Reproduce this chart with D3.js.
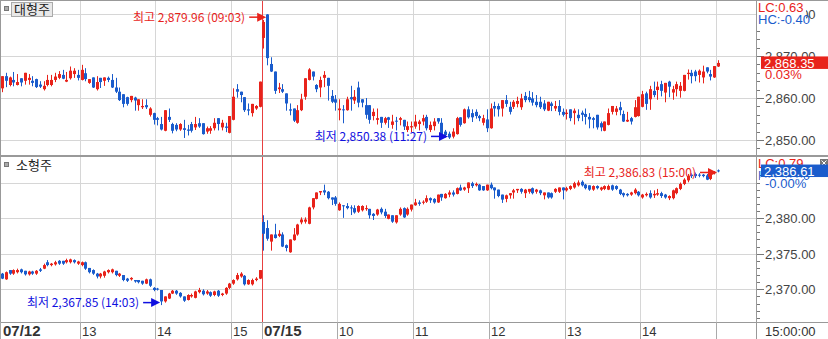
<!DOCTYPE html>
<html>
<head>
<meta charset="utf-8">
<script src="https://cdn.jsdelivr.net/npm/d3@7"></script>
<style>
    body { margin: 0; background: #fff; }
    svg { display: block; }
</style>
</head>
<body>
<script>
// ---------------------- DATA ----------------------
// 3-minute bars: 07/12 (idx 0-68) then 07/15 09:00-15:00 (idx 69-189), [open, high, low, close]
const largeCap = [
    [2862.3,2865.2,2861.5,2865.2],[2865.2,2866.0,2862.7,2864.1],[2863.1,2865.1,2862.9,2864.9],[2864.3,2866.2,2862.9,2863.7],
    [2863.1,2865.7,2863.1,2863.8],[2864.7,2864.7,2862.9,2863.7],[2864.1,2866.0,2863.3,2866.0],[2864.3,2865.7,2863.3,2864.8],
    [2864.1,2865.2,2862.9,2863.6],[2864.5,2864.6,2862.5,2862.6],[2863.2,2864.0,2862.5,2862.7],[2862.1,2864.0,2861.9,2862.9],
    [2863.1,2865.5,2862.9,2864.3],[2863.1,2865.5,2862.9,2864.3],[2864.3,2866.0,2863.9,2865.1],[2864.8,2866.4,2864.6,2865.7],
    [2865.5,2866.7,2864.6,2864.6],[2863.9,2866.2,2863.9,2864.3],[2864.7,2867.5,2864.5,2866.5],[2865.7,2867.1,2864.9,2866.5],
    [2865.5,2866.7,2864.3,2864.8],[2864.3,2867.9,2864.3,2866.7],[2865.9,2867.1,2864.1,2864.5],[2863.6,2864.5,2863.5,2864.5],
    [2864.9,2864.9,2862.5,2862.5],[2862.1,2865.2,2861.9,2863.8],[2864.8,2864.8,2862.5,2863.8],[2864.1,2864.9,2863.0,2864.9],
    [2864.8,2865.1,2863.9,2864.3],[2864.3,2865.7,2862.5,2862.5],[2862.5,2864.8,2861.3,2861.5],[2861.5,2862.5,2859.4,2859.5],
    [2860.9,2860.9,2857.9,2858.6],[2860.2,2860.3,2858.3,2858.6],[2859.5,2860.5,2859.1,2860.5],[2860.1,2860.3,2857.1,2859.4],
    [2858.3,2859.7,2857.1,2859.7],[2857.8,2859.7,2857.5,2858.1],[2858.3,2859.7,2857.5,2857.8],[2856.0,2857.8,2855.7,2857.5],
    [2856.4,2856.5,2853.8,2854.8],[2855.2,2855.5,2853.6,2854.8],[2853.8,2855.5,2852.4,2852.5],[2852.2,2857.1,2852.2,2857.1],
    [2855.5,2857.5,2854.4,2854.8],[2853.8,2854.1,2851.7,2852.2],[2853.6,2854.0,2852.2,2852.5],[2852.5,2854.0,2852.3,2853.8],
    [2852.8,2854.8,2850.6,2852.4],[2852.5,2853.6,2851.2,2852.2],[2853.8,2854.3,2851.9,2852.2],[2853.0,2855.5,2852.5,2853.8],
    [2854.0,2855.2,2853.0,2853.2],[2854.0,2854.0,2851.4,2851.4],[2852.0,2853.2,2851.6,2852.8],[2852.2,2853.3,2851.6,2852.8],
    [2852.8,2855.2,2852.4,2854.1],[2855.2,2855.2,2852.4,2853.8],[2853.0,2854.8,2852.4,2854.1],[2853.2,2854.1,2852.0,2852.9],
    [2851.7,2855.7,2851.7,2855.7],[2854.8,2862.3,2854.8,2860.3],[2862.1,2863.3,2860.2,2861.5],[2861.5,2861.5,2859.1,2860.7],
    [2860.2,2860.2,2856.8,2857.1],[2857.3,2858.7,2856.0,2857.0],[2856.4,2858.6,2855.7,2858.6],[2857.5,2858.3,2857.3,2858.1],
    [2857.9,2863.9,2857.9,2863.9],
    [2874.3,2878.6,2871.9,2878.1],[2879.9,2879.96,2867.9,2869.5],[2868.1,2869.7,2866.3,2866.3],[2866.3,2866.3,2861.1,2861.7],
    [2862.1,2863.6,2861.3,2862.5],[2862.1,2863.3,2861.3,2861.5],[2861.1,2861.1,2857.1,2858.7],[2857.3,2858.7,2856.0,2857.0],
    [2857.5,2857.5,2854.4,2854.6],[2854.1,2858.3,2854.0,2857.1],[2857.1,2861.0,2857.0,2859.7],[2860.3,2864.7,2859.7,2864.7],
    [2864.3,2867.1,2864.3,2866.8],[2866.3,2866.3,2864.3,2865.1],[2863.1,2863.3,2861.5,2862.1],[2862.5,2865.1,2860.3,2864.3],
    [2864.8,2866.4,2862.7,2865.5],[2864.8,2864.8,2859.5,2862.9],[2860.5,2861.9,2858.9,2859.1],[2859.7,2860.7,2857.1,2858.9],
    [2857.1,2859.7,2854.8,2857.5],[2857.3,2858.3,2854.1,2857.1],[2857.1,2860.3,2857.1,2859.7],[2860.2,2862.9,2857.1,2859.7],
    [2859.4,2861.9,2858.7,2860.3],[2862.5,2863.9,2857.9,2858.9],[2859.7,2859.7,2857.9,2858.9],[2858.3,2860.0,2855.2,2856.0],
    [2858.3,2858.3,2854.0,2854.8],[2855.7,2857.5,2854.8,2856.7],[2854.8,2857.5,2853.8,2855.2],[2855.5,2855.5,2853.0,2854.1],
    [2854.1,2855.5,2853.8,2855.2],[2855.4,2855.5,2853.0,2854.8],[2853.6,2856.0,2852.8,2854.4],[2854.6,2855.5,2852.4,2854.4],
    [2854.8,2855.5,2853.6,2855.2],[2854.8,2854.8,2852.5,2853.2],[2852.4,2854.4,2852.0,2853.3],[2853.0,2854.4,2852.0,2853.3],
    [2853.2,2856.0,2852.8,2854.4],[2853.8,2854.8,2852.4,2854.4],[2854.4,2856.0,2853.6,2855.2],[2855.5,2856.0,2852.4,2852.8],
    [2852.4,2854.4,2852.0,2853.6],[2853.3,2855.2,2852.4,2854.4],[2855.2,2855.2,2854.0,2854.4],[2854.1,2855.2,2850.95,2851.2],
    [2852.0,2852.4,2850.7,2851.2],[2851.5,2852.0,2850.38,2850.6],[2850.8,2852.8,2850.5,2852.0],[2851.4,2855.5,2851.4,2855.2],
    [2855.4,2855.4,2853.3,2853.6],[2854.0,2857.5,2854.0,2857.3],[2857.3,2858.0,2855.2,2855.4],[2856.4,2857.3,2854.4,2855.4],
    [2856.7,2857.3,2855.2,2855.7],[2855.7,2856.0,2854.6,2855.2],[2854.1,2856.0,2853.6,2855.2],[2854.9,2857.3,2852.0,2852.8],
    [2852.8,2858.7,2852.8,2857.5],[2858.1,2859.1,2855.7,2857.5],[2858.1,2858.7,2855.7,2857.3],[2857.5,2859.5,2855.7,2859.5],
    [2859.5,2860.7,2858.0,2858.6],[2857.9,2859.1,2856.2,2856.7],[2857.9,2859.5,2857.5,2859.1],[2858.6,2860.3,2857.9,2859.3],
    [2857.8,2861.0,2857.3,2859.9],[2860.5,2861.4,2859.1,2859.5],[2860.2,2861.7,2859.1,2859.5],[2859.9,2861.4,2858.3,2858.9],
    [2859.1,2860.7,2857.9,2858.3],[2859.1,2860.3,2857.5,2857.8],[2858.7,2859.5,2857.0,2857.3],[2857.0,2859.1,2857.0,2859.1],
    [2858.7,2859.1,2857.0,2858.1],[2857.5,2859.3,2857.0,2858.1],[2858.1,2859.5,2856.0,2856.7],[2856.7,2857.5,2855.7,2856.0],
    [2856.2,2857.3,2855.0,2856.5],[2857.3,2857.3,2854.6,2855.2],[2856.4,2857.5,2853.8,2857.0],[2856.0,2857.3,2854.6,2855.2],
    [2856.5,2857.0,2854.6,2856.0],[2856.2,2857.5,2853.8,2855.5],[2855.5,2856.4,2852.9,2854.9],[2855.2,2855.5,2852.9,2854.8],
    [2856.0,2856.0,2852.6,2853.0],[2854.0,2854.4,2852.2,2853.0],[2852.2,2854.4,2852.2,2854.4],[2853.6,2857.5,2853.6,2856.4],
    [2856.7,2858.1,2856.2,2858.1],[2856.7,2858.1,2856.0,2857.5],[2857.8,2859.1,2856.0,2857.1],[2856.2,2857.0,2854.4,2854.4],
    [2854.4,2856.7,2854.4,2854.8],[2855.2,2855.5,2853.8,2854.4],[2855.5,2859.5,2855.5,2857.8],[2855.7,2860.3,2855.7,2860.3],
    [2857.9,2861.7,2857.9,2860.9],[2861.1,2861.5,2857.3,2858.6],[2859.7,2862.9,2857.3,2862.1],[2861.7,2863.9,2860.3,2860.7],
    [2861.9,2863.9,2859.7,2862.7],[2863.3,2864.1,2860.5,2861.7],[2861.3,2863.6,2859.1,2863.6],[2863.9,2864.1,2860.3,2862.7],
    [2861.3,2862.9,2859.7,2862.1],[2862.1,2863.9,2860.5,2863.3],[2861.7,2863.8,2860.2,2862.9],[2861.7,2865.5,2861.7,2865.5],
    [2865.7,2866.8,2864.5,2866.0],[2866.0,2866.7,2863.6,2865.2],[2866.3,2866.7,2864.1,2865.2],[2865.5,2866.8,2863.8,2866.5],
    [2864.9,2867.7,2863.6,2866.3],[2867.3,2867.3,2866.0,2866.3],[2865.7,2866.7,2864.3,2865.1],[2864.9,2867.6,2864.9,2867.6],
    [2867.5,2869.0,2867.5,2868.35]
];

const smallCap = [
    [2372.2,2372.3,2371.5,2371.5],[2371.4,2372.5,2371.4,2372.4],[2372.7,2372.7,2372.1,2372.2],[2372.2,2372.8,2372.1,2372.7],
    [2372.4,2372.9,2372.3,2372.7],[2372.8,2372.9,2372.3,2372.4],[2372.6,2372.6,2372.0,2372.1],[2372.1,2372.6,2372.0,2372.5],
    [2372.5,2372.6,2372.1,2372.2],[2372.2,2372.7,2372.1,2372.6],[2372.8,2373.0,2372.5,2372.6],[2372.9,2373.6,2372.9,2373.4],
    [2373.8,2374.1,2373.3,2373.4],[2373.4,2373.7,2373.3,2373.6],[2373.5,2374.0,2373.4,2373.8],[2374.0,2374.1,2373.5,2373.6],
    [2374.0,2374.0,2373.5,2373.6],[2373.8,2374.3,2373.7,2374.1],[2373.8,2374.3,2373.7,2374.2],[2374.1,2374.2,2373.7,2373.8],
    [2373.6,2374.0,2373.5,2373.9],[2373.4,2373.9,2373.3,2373.8],[2373.8,2373.9,2372.8,2372.9],[2373.0,2373.0,2372.3,2372.4],
    [2372.7,2372.8,2372.1,2372.2],[2372.2,2372.3,2371.6,2371.8],[2371.8,2372.3,2371.6,2372.2],[2371.9,2372.6,2371.7,2372.5],
    [2372.4,2372.8,2372.3,2372.7],[2372.4,2372.9,2372.3,2372.8],[2372.6,2372.6,2371.9,2372.0],[2371.9,2372.3,2371.8,2372.2],
    [2372.0,2372.0,2371.2,2371.3],[2371.5,2371.6,2371.1,2371.2],[2371.4,2371.7,2371.3,2371.6],[2371.3,2371.3,2371.0,2371.1],
    [2371.3,2371.3,2370.9,2371.0],[2371.2,2371.2,2370.7,2370.8],[2370.8,2371.5,2370.8,2371.4],[2371.4,2371.5,2370.4,2370.5],
    [2370.2,2370.3,2369.8,2369.9],[2370.1,2370.2,2369.9,2370.0],[2369.9,2369.9,2367.85,2368.3],[2368.3,2369.0,2368.2,2369.0],
    [2368.7,2369.5,2368.7,2369.4],[2369.4,2369.9,2369.4,2369.8],[2369.8,2369.9,2369.3,2369.4],[2369.5,2369.6,2368.9,2369.0],
    [2369.0,2369.0,2368.3,2368.4],[2368.5,2369.3,2368.5,2369.2],[2369.0,2369.4,2368.9,2369.2],[2368.8,2369.8,2368.8,2369.7],
    [2369.6,2370.2,2369.5,2369.9],[2369.8,2370.0,2369.2,2369.3],[2369.4,2369.9,2369.3,2369.7],[2369.6,2369.7,2369.0,2369.1],
    [2369.2,2369.8,2369.1,2369.7],[2369.8,2369.9,2369.0,2369.1],[2369.2,2369.5,2369.1,2369.4],[2369.4,2370.3,2369.3,2370.2],
    [2370.2,2370.9,2370.1,2370.8],[2370.8,2371.4,2370.7,2371.3],[2371.4,2372.3,2371.3,2372.0],[2371.8,2372.4,2371.7,2372.2],
    [2371.9,2372.0,2370.6,2370.7],[2370.7,2371.4,2370.7,2371.3],[2370.7,2371.5,2370.6,2371.3],[2371.3,2371.7,2371.2,2371.5],
    [2371.5,2372.7,2371.5,2372.7],
    [2379.45,2380.4,2375.5,2377.8],[2378.6,2379.7,2376.9,2377.1],[2376.7,2377.7,2375.5,2377.7],[2377.7,2379.2,2377.2,2377.2],
    [2377.5,2378.3,2377.4,2377.8],[2377.7,2378.0,2376.0,2376.0],[2376.2,2376.3,2375.4,2375.8],[2375.2,2377.0,2375.2,2377.0],
    [2376.9,2378.6,2376.9,2377.7],[2377.7,2379.2,2377.6,2379.1],[2379.4,2380.1,2379.2,2379.8],[2379.5,2380.1,2379.3,2379.8],
    [2379.2,2381.6,2379.2,2381.5],[2381.5,2382.8,2381.3,2382.8],[2382.7,2383.6,2382.7,2383.6],[2383.6,2383.8,2383.3,2383.8],
    [2383.9,2384.7,2383.3,2383.6],[2383.7,2383.8,2382.7,2382.8],[2382.9,2382.9,2381.9,2382.6],[2382.9,2383.1,2381.8,2382.0],
    [2381.1,2382.2,2381.1,2382.0],[2381.8,2381.8,2380.1,2381.7],[2381.7,2382.1,2381.3,2381.4],[2381.5,2381.8,2380.5,2381.4],
    [2381.4,2381.8,2380.7,2380.8],[2380.9,2381.8,2380.8,2381.7],[2381.1,2381.8,2381.0,2381.7],[2381.3,2381.8,2381.1,2381.4],
    [2381.3,2381.3,2380.0,2380.4],[2380.6,2380.7,2379.8,2380.3],[2380.5,2381.3,2380.4,2381.2],[2381.3,2381.5,2380.6,2380.8],
    [2380.9,2381.3,2380.1,2380.3],[2379.9,2380.5,2379.9,2380.5],[2380.4,2380.4,2379.4,2379.5],[2379.4,2380.4,2379.3,2380.4],
    [2380.5,2381.5,2380.4,2381.3],[2381.4,2381.5,2380.1,2380.1],[2380.5,2381.5,2380.4,2381.3],[2381.2,2381.9,2381.0,2381.9],
    [2381.8,2382.7,2381.8,2382.2],[2382.2,2382.5,2381.8,2382.0],[2382.2,2382.5,2382.0,2382.3],[2382.3,2383.2,2382.2,2382.8],
    [2382.8,2382.9,2382.2,2382.5],[2382.7,2382.8,2382.1,2382.2],[2382.2,2383.3,2382.2,2383.3],[2383.4,2383.4,2382.5,2382.9],
    [2382.8,2383.5,2382.8,2383.4],[2383.3,2383.9,2383.0,2383.6],[2383.6,2383.9,2383.1,2383.3],[2383.4,2384.3,2383.4,2384.2],
    [2384.3,2384.7,2383.9,2383.9],[2384.0,2384.4,2383.9,2384.3],[2384.2,2385.0,2383.6,2385.0],[2384.9,2385.1,2384.3,2384.5],
    [2384.6,2385.0,2384.5,2384.8],[2384.7,2384.8,2383.9,2383.9],[2384.5,2384.5,2383.9,2383.9],[2383.9,2384.7,2383.9,2384.7],
    [2384.7,2385.0,2384.1,2384.2],[2384.3,2384.3,2382.8,2383.9],[2384.0,2384.0,2383.0,2383.1],[2383.3,2383.3,2382.2,2382.6],
    [2382.7,2383.3,2382.3,2383.2],[2383.2,2383.5,2382.8,2383.5],[2383.6,2384.1,2382.8,2383.9],[2383.9,2384.1,2383.6,2384.1],
    [2384.1,2384.2,2383.5,2383.7],[2383.5,2384.1,2382.9,2384.0],[2383.7,2384.1,2383.5,2384.1],[2384.2,2384.3,2383.4,2383.5],
    [2383.7,2384.1,2383.5,2384.0],[2383.9,2384.0,2383.3,2383.5],[2383.2,2383.6,2382.7,2383.6],[2383.6,2383.6,2382.8,2382.9],
    [2383.5,2383.6,2382.8,2382.9],[2383.7,2384.2,2383.6,2384.1],[2383.7,2384.3,2383.6,2384.3],[2384.3,2384.3,2382.7,2383.9],
    [2383.9,2384.4,2383.8,2384.2],[2384.1,2384.6,2384.0,2384.5],[2384.3,2385.1,2384.2,2384.9],[2384.6,2385.3,2384.5,2385.0],
    [2385.1,2385.3,2384.5,2384.6],[2384.7,2384.8,2384.1,2384.2],[2384.6,2384.6,2383.9,2384.0],[2384.0,2384.6,2383.9,2384.5],
    [2384.5,2384.6,2384.1,2384.2],[2384.0,2384.4,2383.9,2384.3],[2384.1,2384.6,2384.0,2384.5],[2384.0,2384.7,2384.0,2384.5],
    [2384.6,2384.7,2383.9,2384.0],[2384.5,2384.6,2384.0,2384.1],[2384.0,2384.1,2383.3,2383.4],[2383.5,2383.6,2383.0,2383.2],
    [2383.4,2383.5,2383.1,2383.2],[2383.3,2383.7,2383.2,2383.6],[2383.5,2384.2,2383.4,2384.0],[2383.7,2383.8,2383.1,2383.2],
    [2382.9,2383.4,2382.8,2383.3],[2383.2,2383.6,2383.1,2383.4],[2383.5,2383.9,2382.8,2382.9],[2383.2,2383.9,2382.9,2383.4],
    [2383.3,2384.1,2383.2,2383.5],[2383.5,2383.7,2382.9,2383.1],[2383.3,2383.4,2382.8,2382.9],[2382.8,2383.2,2382.6,2383.1],
    [2382.8,2384.0,2382.7,2383.9],[2383.5,2384.3,2383.4,2384.2],[2384.1,2385.0,2384.0,2384.8],[2384.8,2385.6,2384.7,2385.4],
    [2385.3,2386.2,2385.1,2385.9],[2386.1,2386.3,2385.7,2385.9],[2386.2,2386.4,2385.7,2385.9],[2386.1,2386.3,2385.8,2386.0],
    [2386.1,2386.2,2385.8,2385.9],[2386.0,2386.2,2385.4,2385.4],[2385.5,2386.6,2385.4,2386.5],[2386.3,2386.6,2386.2,2386.5],
    [2386.7,2386.83,2386.5,2386.61]
];

// first bar of each hour on the time axis
const hourTickIdx = [0, 21, 41, 61, 69, 89, 109, 129, 149, 169, 189];
const hourTickLabels = ["07/12", "13", "14", "15", "07/15", "10", "11", "12", "13", "14", ""];
const dayStartIdx = 69;

const largeCapTicks = [2850, 2860, 2870, 2880];
const smallCapTicks = [2370, 2375, 2380, 2385];

const largeCapText = { name: "대형주", lc: "LC:0.63", hc: "HC:-0.40", last: "2,868.35", change: "0.03%" };
const smallCapText = { name: "소형주", lc: "LC:0.79", hc: "HC:-0.00", last: "2,386.61", change: "-0.00%" };

const largeCapMarks = [
    { text: "최고 2,879.96 (09:03)", idx: 70, value: 2879.96, kind: "high" },
    { text: "최저 2,850.38 (11:27)", idx: 118, value: 2850.38, kind: "low" }
];
const smallCapMarks = [
    { text: "최고 2,386.83 (15:00)", idx: 189, value: 2386.83, kind: "high" },
    { text: "최저 2,367.85 (14:03)", idx: 42, value: 2367.85, kind: "low" }
];

// ---------------------- SETUP ----------------------
const W = 828, H = 339;
const plotRight = 756;
const axisBottom = 322;
const UP = "#e8231b", DOWN = "#1a5ccc";
const NUM_FONT = "'Liberation Sans', Arial, sans-serif";
const KR_FONT = "'Noto Sans CJK KR', 'Noto Sans', sans-serif";

const svg = d3.select("body").append("svg")
    .attr("width", W)
    .attr("height", H);

const x = d3.scaleLinear().domain([0, 189]).range([2, 718]);

const panels = [
    {
        data: largeCap, top: 1, bottom: 155,
        y: d3.scaleLinear().domain([2850, 2880]).range([140, 14]),
        ticks: largeCapTicks, minorStep: 2, text: largeCapText, marks: largeCapMarks, boxed: true
    },
    {
        data: smallCap, top: 157, bottom: axisBottom,
        y: d3.scaleLinear().domain([2370, 2385]).range([289.3, 182.5]),
        ticks: smallCapTicks, minorStep: 1, text: smallCapText, marks: smallCapMarks, boxed: false
    }
];

const fmt = d3.format(",.2f");

// ---------------------- DRAW FUNCTIONS ----------------------

function drawGrid(p) {
    const g = svg.append("g");
    g.selectAll("line.h")
        .data(p.ticks)
        .enter().append("line")
        .attr("x1", 0).attr("x2", plotRight)
        .attr("y1", d => Math.round(p.y(d)) + 0.5)
        .attr("y2", d => Math.round(p.y(d)) + 0.5)
        .attr("stroke", "#d6d6d6");
    g.selectAll("line.v")
        .data(hourTickIdx)
        .enter().append("line")
        .attr("x1", d => Math.round(x(d - 0.5)) + 0.5)
        .attr("x2", d => Math.round(x(d - 0.5)) + 0.5)
        .attr("y1", p.top).attr("y2", p.bottom)
        .attr("stroke", d => d === dayStartIdx ? "#e84040" : "#d6d6d6");
}

function drawCandles(p) {
    const g = svg.append("g");
    const bars = g.selectAll("g.bar")
        .data(p.data)
        .enter().append("g");

    bars.append("line")
        .attr("x1", (d, i) => Math.round(x(i)) + 0.5)
        .attr("x2", (d, i) => Math.round(x(i)) + 0.5)
        .attr("y1", d => p.y(d[1]))
        .attr("y2", d => p.y(d[2]) + 0.5)
        .attr("stroke", d => d[3] >= d[0] ? UP : DOWN);

    bars.append("rect")
        .attr("x", (d, i) => Math.round(x(i)) - 1)
        .attr("width", 3)
        .attr("y", d => p.y(Math.max(d[0], d[3])))
        .attr("height", d => Math.max(1, Math.abs(p.y(d[0]) - p.y(d[3]))))
        .attr("fill", d => d[3] >= d[0] ? UP : DOWN);
}

function drawMarks(p) {
    const g = svg.append("g");
    p.marks.forEach(m => {
        const color = m.kind === "high" ? UP : "#1010e0";
        const tip = x(m.idx) - 1;
        const ay = p.y(m.value) + (m.kind === "high" ? 3 : -2);
        g.append("text")
            .attr("x", tip - 21)
            .attr("y", ay + 4.5)
            .attr("text-anchor", "end")
            .attr("font-family", KR_FONT)
            .attr("font-size", 12)
            .attr("fill", color)
            .text(m.text);
        g.append("line")
            .attr("x1", tip - 17).attr("x2", tip - 6)
            .attr("y1", ay).attr("y2", ay)
            .attr("stroke", color)
            .attr("stroke-width", 1.5);
        g.append("path")
            .attr("d", `M${tip - 9},${ay - 4.5}L${tip},${ay}L${tip - 9},${ay + 4.5}Z`)
            .attr("fill", color);
    });
}

function drawRightAxis(p) {
    const g = svg.append("g");
    const lo = p.y.invert(p.bottom), hi = p.y.invert(p.top);
    const minors = d3.range(Math.ceil(lo / p.minorStep) * p.minorStep, hi, p.minorStep);
    g.selectAll("line.minor")
        .data(minors)
        .enter().append("line")
        .attr("x1", plotRight).attr("x2", d => plotRight + (p.ticks.includes(d) ? 8 : 4))
        .attr("y1", d => Math.round(p.y(d)) + 0.5)
        .attr("y2", d => Math.round(p.y(d)) + 0.5)
        .attr("stroke", "#777");

    // labels sitting fully under the change-% text are not visible in the original
    const lastY = p.y(p.data[p.data.length - 1][3]);
    const shown = p.ticks.filter(d => !(p.y(d) > lastY + 3 && p.y(d) < lastY + 20));
    g.selectAll("text")
        .data(shown)
        .enter().append("text")
        .attr("x", 765)
        .attr("y", d => p.y(d) + 5)
        .attr("font-family", NUM_FONT)
        .attr("font-size", 13)
        .attr("fill", "#444")
        .text(d => fmt(d));
}

function drawInfo(p) {
    const g = svg.append("g");
    const t = p.text;
    const top = p.top;

    // LC / HC block on white, hides the top tick label
    g.append("rect").attr("x", 757).attr("y", top + 1).attr("width", 49).attr("height", 24).attr("fill", "#fff");
    g.append("text").attr("x", 758).attr("y", top + 11)
        .attr("font-family", NUM_FONT).attr("font-size", 13).attr("fill", UP).text(t.lc);
    g.append("text").attr("x", 758).attr("y", top + 23)
        .attr("font-family", NUM_FONT).attr("font-size", 13).attr("fill", DOWN).text(t.hc);

    // last price box
    const last = p.data[p.data.length - 1][3];
    const ly = p.y(last);
    const boxColor = p.boxed ? UP : DOWN;
    g.append("rect").attr("x", 761).attr("y", ly - 6.5).attr("width", W - 761).attr("height", 12.5).attr("fill", boxColor);
    g.append("text").attr("x", 764).attr("y", ly + 5)
        .attr("font-family", NUM_FONT).attr("font-size", 13).attr("fill", "#fff").text(t.last);
    g.append("rect").attr("x", 760).attr("y", ly + 6.5).attr("width", 44).attr("height", 11).attr("fill", "#fff");
    g.append("text").attr("x", 765).attr("y", ly + 16.5)
        .attr("font-family", NUM_FONT).attr("font-size", 13).attr("fill", boxColor).text(t.change);

    // panel title
    g.append("rect").attr("x", 4.5).attr("y", top + 5.5).attr("width", 4).attr("height", 4)
        .attr("fill", "#aaa").attr("stroke", "#777");
    if (p.boxed) {
        g.append("rect").attr("x", 11.5).attr("y", top + 1.5).attr("width", 41).attr("height", 14)
            .attr("fill", "#e8e8e8").attr("stroke", "#aaa");
    }
    g.append("text").attr("x", p.boxed ? 14 : 16).attr("y", top + 13)
        .attr("font-family", KR_FONT).attr("font-size", 13).attr("fill", "#222").text(t.name);
}

function drawFrame() {
    const g = svg.append("g").attr("stroke", "#999").attr("fill", "none");
    g.append("line").attr("x1", 0).attr("x2", W).attr("y1", 0.5).attr("y2", 0.5);
    g.append("line").attr("x1", 0.5).attr("x2", 0.5).attr("y1", 0).attr("y2", H);
    g.append("line").attr("x1", plotRight + 0.5).attr("x2", plotRight + 0.5).attr("y1", 0).attr("y2", H);
    g.append("line").attr("x1", 0).attr("x2", W).attr("y1", 156).attr("y2", 156).attr("stroke-width", 2);
    g.append("line").attr("x1", 0).attr("x2", W).attr("y1", axisBottom + 0.5).attr("y2", axisBottom + 0.5);

    // close icon of the lower panel
    svg.append("rect").attr("x", 820).attr("y", 159).attr("width", 8).attr("height", 8).attr("fill", "#777");
    svg.append("path").attr("d", "M821.5,160.5L826.5,165.5M826.5,160.5L821.5,165.5")
        .attr("stroke", "#fff").attr("stroke-width", 1);
}

function drawTimeAxis() {
    const g = svg.append("g");
    g.selectAll("line")
        .data(hourTickIdx)
        .enter().append("line")
        .attr("x1", d => Math.round(x(d - 0.5)) + 0.5)
        .attr("x2", d => Math.round(x(d - 0.5)) + 0.5)
        .attr("y1", axisBottom).attr("y2", H)
        .attr("stroke", "#aaa");
    g.selectAll("text")
        .data(hourTickIdx)
        .enter().append("text")
        .attr("x", d => Math.max(3, Math.round(x(d - 0.5)) + 2))
        .attr("y", 336)
        .attr("font-family", NUM_FONT)
        .attr("font-size", (d, i) => hourTickLabels[i].includes("/") ? 15 : 13)
        .attr("font-weight", (d, i) => hourTickLabels[i].includes("/") ? "bold" : "normal")
        .attr("fill", "#333")
        .text((d, i) => hourTickLabels[i]);
    g.append("text")
        .attr("x", 765).attr("y", 336)
        .attr("font-family", NUM_FONT).attr("font-size", 13).attr("fill", "#333")
        .text("15:00:00");
}

// ---------------------- RENDER ----------------------
panels.forEach(drawGrid);
panels.forEach(drawCandles);
panels.forEach(drawMarks);
panels.forEach(drawRightAxis);
drawFrame();
drawTimeAxis();
panels.forEach(drawInfo);
</script>
</body>
</html>
